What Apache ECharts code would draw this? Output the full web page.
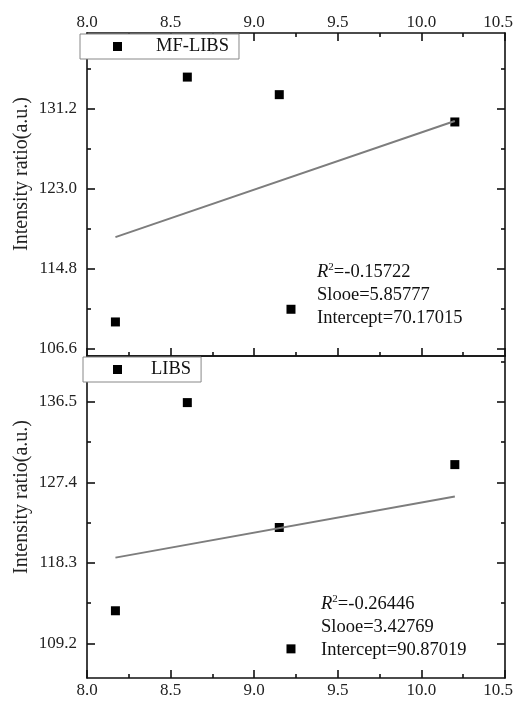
<!DOCTYPE html>
<html>
<head>
<meta charset="utf-8">
<script src="https://cdn.jsdelivr.net/npm/echarts@6/dist/echarts.min.js"></script>
<style>
  html, body { margin: 0; padding: 0; background: #fff; }
  #chart { width: 515px; height: 705px; }
</style>
</head>
<body>
<div id="chart"></div>
<script>
// MF-LIBS points (top panel)
var mfX = [8.6, 9.15, 10.2, 8.17, 9.22];
var mfY = [134.4, 132.6, 129.8, 109.3, 110.6];
var mfFit = [[8.17, 118.0], [10.2, 129.9]];
var mfYTicks = [106.6, 114.8, 123.0, 131.2];
var mfYMinor = [110.7, 118.9, 127.1, 135.3];
var mfRange = [105.81, 138.92];
var mfStats = ['=-0.15722', 'Slooe=5.85777', 'Intercept=70.17015'];

// LIBS points (bottom panel)
var libsX = [8.6, 9.15, 10.2, 8.17, 9.22];
var libsY = [136.4, 122.3, 129.4, 112.9, 108.6];
var libsFit = [[8.17, 118.9], [10.2, 125.8]];
var libsYTicks = [109.2, 118.3, 127.4, 136.5];
var libsYMinor = [113.75, 122.85, 131.95, 141.05];
var libsRange = [105.31, 141.66];
var libsStats = ['=-0.26446', 'Slooe=3.42769', 'Intercept=90.87019'];

var xRange = [8.0, 10.5];
var yTitle = 'Intensity ratio(a.u.)';

var FONT = 'Liberation Serif';
var AXIS = { color: '#111', width: 1.6 };

function pairs(xs, ys) {
    return xs.map(function (x, i) { return [x, ys[i]]; });
}

function xAx(grid, pos, labels, ticks) {
    return {
        type: 'value', gridIndex: grid, position: pos,
        min: xRange[0], max: xRange[1], interval: 0.5,
        axisLine: { show: true, onZero: false, lineStyle: AXIS },
        axisTick: { show: ticks, inside: true, length: 8, lineStyle: AXIS },
        minorTick: { show: ticks, splitNumber: 2, length: 4, lineStyle: AXIS },
        axisLabel: {
            show: labels, margin: pos === 'top' ? 2 : 4, fontFamily: FONT, fontSize: 17, color: '#222',
            // last label is pulled left a bit so it stays inside the frame
            formatter: function (v) {
                return v === xRange[1] ? '{e|' + v.toFixed(1) + '}' : v.toFixed(1);
            },
            rich: { e: { fontFamily: FONT, fontSize: 17, color: '#222', padding: [0, 14, 0, 0] } }
        },
        splitLine: { show: false }
    };
}

function yAx(grid, pos, range, vals, len, labels, line) {
    return {
        type: 'value', gridIndex: grid, position: pos,
        min: range[0], max: range[1],
        axisLine: { show: line, onZero: false, lineStyle: AXIS },
        axisTick: { show: true, inside: true, length: len, customValues: vals, lineStyle: AXIS },
        axisLabel: {
            show: labels, customValues: vals, margin: 10, fontFamily: FONT, fontSize: 17, color: '#222',
            formatter: function (v) { return v.toFixed(1); }
        },
        splitLine: { show: false }
    };
}

function statsText(lines, x, y) {
    var els = [];
    lines.forEach(function (t, i) {
        els.push({
            type: 'text', left: x, top: y + i * 23.5, z: 10,
            style: {
                text: i === 0 ? '{r|R}{s|2}' + t : t,
                font: '18.5px ' + FONT, fill: '#111',
                rich: {
                    r: { fontStyle: 'italic', fontSize: 18.5, fontFamily: FONT },
                    s: { fontSize: 11, fontFamily: FONT, verticalAlign: 'top', padding: [0, 0, 9, 0] }
                }
            }
        });
    });
    return els;
}

function titleText(cy) {
    return {
        type: 'text', rotation: Math.PI / 2, x: 12, y: cy, z: 10,
        style: {
            text: yTitle, font: '20px ' + FONT, fill: '#222',
            align: 'center', verticalAlign: 'top'
        }
    };
}

var myChart = echarts.init(document.getElementById('chart'));
myChart.setOption({
    animation: false,
    backgroundColor: '#fff',
    grid: [
        { left: 87, right: 10, top: 33, height: 323, containLabel: false, outerBoundsMode: 'none' },
        { left: 87, right: 10, top: 356, height: 322, containLabel: false, outerBoundsMode: 'none' }
    ],
    legend: [
        {
            data: ['MF-LIBS'], left: 80, top: 34, icon: 'rect', itemWidth: 9, itemHeight: 9,
            padding: [3, 10, 3, 33], borderColor: '#888', borderWidth: 1, backgroundColor: '#fff',
            textStyle: { fontFamily: FONT, fontSize: 18.5, color: '#111', padding: [0, 0, 0, 29] }
        },
        {
            data: ['LIBS'], left: 83, top: 357, icon: 'rect', itemWidth: 9, itemHeight: 9,
            padding: [3, 10, 3, 30], borderColor: '#888', borderWidth: 1, backgroundColor: '#fff',
            textStyle: { fontFamily: FONT, fontSize: 18.5, color: '#111', padding: [0, 0, 0, 24] }
        }
    ],
    xAxis: [
        xAx(0, 'top', true, true),
        xAx(0, 'bottom', false, true),
        xAx(1, 'bottom', true, true),
        xAx(1, 'top', false, false)
    ],
    yAxis: [
        yAx(0, 'left', mfRange, mfYTicks, 8, true, true),
        yAx(0, 'left', mfRange, mfYMinor, 4, false, false),
        yAx(0, 'right', mfRange, mfYTicks, 8, false, true),
        yAx(0, 'right', mfRange, mfYMinor, 4, false, false),
        yAx(1, 'left', libsRange, libsYTicks, 8, true, true),
        yAx(1, 'left', libsRange, libsYMinor, 4, false, false),
        yAx(1, 'right', libsRange, libsYTicks, 8, false, true),
        yAx(1, 'right', libsRange, libsYMinor, 4, false, false)
    ],
    series: [
        {
            name: 'MF-LIBS fit', type: 'line', xAxisIndex: 0, yAxisIndex: 0,
            data: mfFit, showSymbol: false, silent: true,
            lineStyle: { color: '#7d7d7d', width: 2 }
        },
        {
            name: 'MF-LIBS', type: 'scatter', xAxisIndex: 0, yAxisIndex: 0,
            data: pairs(mfX, mfY), symbol: 'rect', symbolSize: 9,
            itemStyle: { color: '#000', opacity: 1 }
        },
        {
            name: 'LIBS fit', type: 'line', xAxisIndex: 2, yAxisIndex: 4,
            data: libsFit, showSymbol: false, silent: true,
            lineStyle: { color: '#7d7d7d', width: 2 }
        },
        {
            name: 'LIBS', type: 'scatter', xAxisIndex: 2, yAxisIndex: 4,
            data: pairs(libsX, libsY), symbol: 'rect', symbolSize: 9,
            itemStyle: { color: '#000', opacity: 1 }
        }
    ],
    graphic: statsText(mfStats, 317, 262)
        .concat(statsText(libsStats, 321, 594))
        .concat([titleText(174), titleText(497)])
});
</script>
</body>
</html>
